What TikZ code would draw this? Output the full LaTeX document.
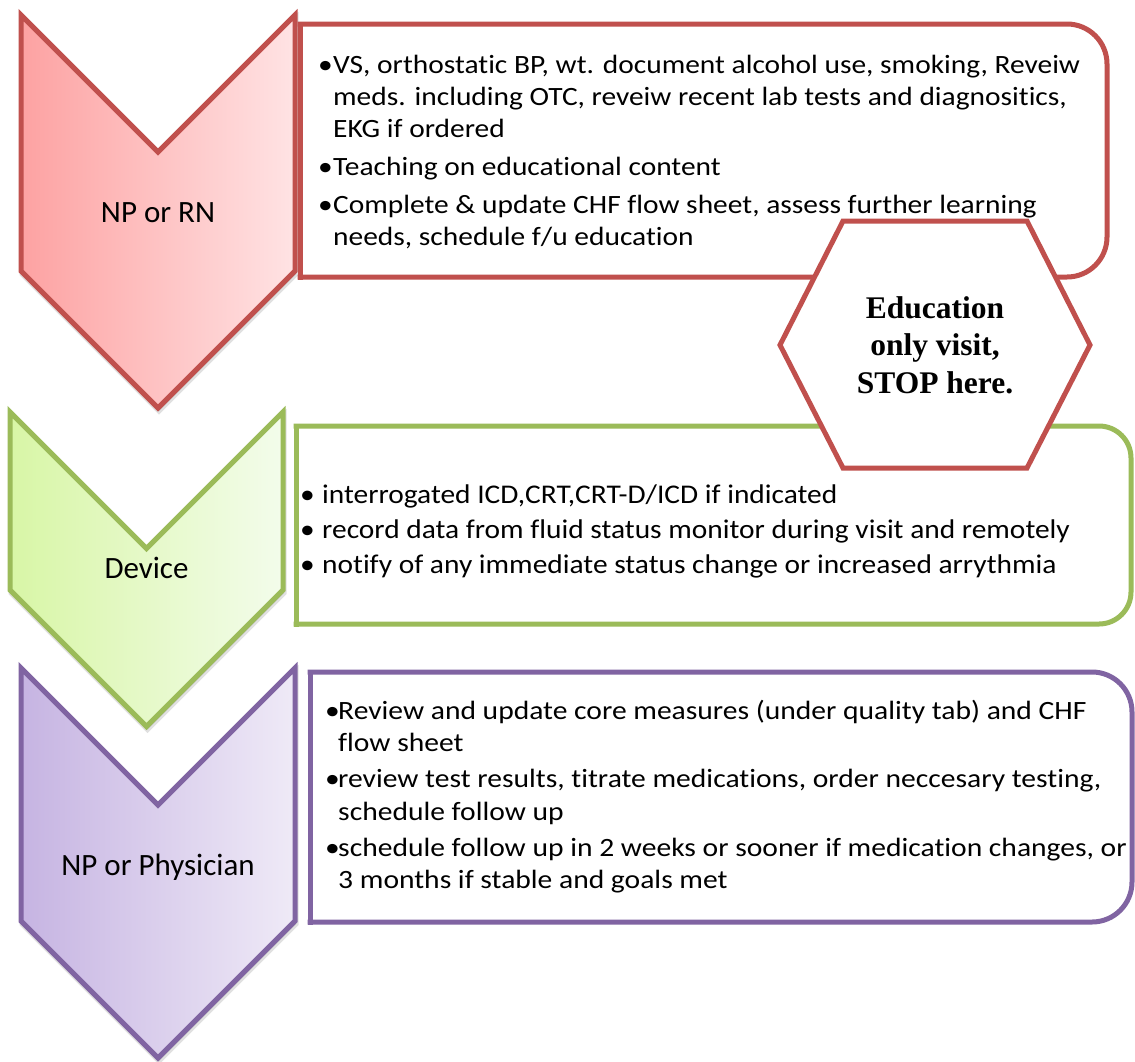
\documentclass[tikz,border=0pt]{standalone}
\usepackage{fontspec}
\setmainfont{Carlito}[Ligatures=CommonOff]
\newfontfamily\boxAfont{Carlito}[FakeStretch=1.115,Ligatures=CommonOff]
\newfontfamily\boxBfont{Carlito}[FakeStretch=1.09,Ligatures=CommonOff]
\newfontfamily\boxCfont{Carlito}[FakeStretch=1.12,Ligatures=CommonOff]
\newfontfamily\hexfont{Liberation Serif}
\definecolor{cred}{HTML}{C0504D}
\definecolor{cgreen}{HTML}{9BBB59}
\definecolor{cpurple}{HTML}{8064A2}
\definecolor{redL}{HTML}{FDA2A2}
\definecolor{redR}{HTML}{FFE3E4}
\definecolor{greenL}{HTML}{D8F6A6}
\definecolor{greenR}{HTML}{F3FCEB}
\definecolor{purpleL}{HTML}{C6B4E2}
\definecolor{purpleR}{HTML}{EFEAF7}
\tikzset{
  chevshadow/.style={preaction={fill=black, fill opacity=0.12, draw=black, draw opacity=0.12, line width=5pt, transform canvas={xshift=1pt, yshift=-3pt}}},
  chevred/.style={chevshadow, draw=cred, line width=5pt, left color=redL, right color=redR},
  chevgreen/.style={chevshadow, draw=cgreen, line width=5pt, left color=greenL, right color=greenR},
  chevpurple/.style={chevshadow, draw=cpurple, line width=5pt, left color=purpleL, right color=purpleR},
  boxline/.style={line width=5pt, line cap=rect},
  chevlabel/.style={inner sep=0pt, anchor=base, font=\fontsize{31}{37}\selectfont},
  bodytext/.style={inner sep=0pt, anchor=base west},
  hexshape/.style={draw=cred, fill=white, line width=5pt},
}
\begin{document}
\begin{tikzpicture}[x=1pt,y=-1pt]
\useasboundingbox[fill=white] (0,0) rectangle (1135,1061);

% chevrons
\draw[chevred] (21,15) -- (158,152) -- (295,15) -- (295,271) -- (158,408) -- (21,271) -- cycle;
\draw[chevgreen] (10,412) -- (146.5,548.5) -- (283,412) -- (283,590) -- (146.5,726.5) -- (10,590) -- cycle;
\draw[chevpurple] (21,668) -- (158,805) -- (295,668) -- (295,921) -- (158,1058) -- (21,921) -- cycle;

\node[chevlabel] (lab1) at (158,222) {NP or RN};
\node[chevlabel] (lab2) at (146.5,578) {Device};
\node[chevlabel] (lab3) at (158,875) {NP or Physician};

% box 1
\draw[boxline, draw=cred, rounded corners=40pt] (300,24) -- (1107,24) -- (1107,277) -- (300,277);
\draw[boxline, draw=cred] (300,24) -- (300,277);
% box 2
\draw[boxline, draw=cgreen, rounded corners=32pt] (296,426) -- (1131,426) -- (1131,624) -- (296,624);
\draw[boxline, draw=cgreen] (296,426) -- (296,624);
% box 3
\draw[boxline, draw=cpurple, rounded corners=40pt] (310,672) -- (1132,672) -- (1132,922) -- (310,922);
\draw[boxline, draw=cpurple] (310,672) -- (310,922);

\node[bodytext] (t1) at (318,73) {\vtop{\boxAfont\fontsize{26.4}{32}\selectfont
  \hbox{\makebox[15pt][l]{•}VS, orthostatic BP, wt. document alcohol use, smoking, Reveiw}
  \hbox{\kern15pt meds. including OTC, reveiw recent lab tests and diagnositics,}
  \hbox{\kern15pt EKG if ordered}
  \vskip6pt
  \hbox{\makebox[15pt][l]{•}Teaching on educational content}
  \vskip6pt
  \hbox{\makebox[15pt][l]{•}Complete \& update CHF flow sheet, assess further learning}
  \hbox{\kern15pt needs, schedule f/u education}}};

\node[bodytext] (t2) at (300,503) {\vtop{\boxBfont\fontsize{27}{35}\selectfont
  \hbox{\makebox[22pt][l]{•}interrogated ICD,CRT,CRT-D/ICD if indicated}
  \hbox{\makebox[22pt][l]{•}record data from fluid status monitor during visit and remotely}
  \hbox{\makebox[22pt][l]{•}notify of any immediate status change or increased arrythmia}}};

\node[bodytext] (t3) at (325,719) {\vtop{\boxCfont\fontsize{26.4}{32.5}\selectfont
  \hbox{\makebox[13pt][l]{•}Review and update core measures (under quality tab) and CHF}
  \hbox{\kern13pt flow sheet}
  \vskip3.5pt
  \hbox{\makebox[13pt][l]{•}review test results, titrate medications, order neccesary testing,}
  \hbox{\kern13pt schedule follow up}
  \vskip3.5pt
  \hbox{\makebox[13pt][l]{•}schedule follow up in 2 weeks or sooner if medication changes, or}
  \hbox{\kern13pt 3 months if stable and goals met}}};

% hexagon
\draw[hexshape] (843,221) -- (1027,221) -- (1090,345) -- (1027,468) -- (843,468) -- (780,345) -- cycle;
\node[inner sep=0pt, anchor=base, font=\hexfont\bfseries\fontsize{31.5}{37.5}\selectfont] (hex) at (935,318) {\vtop{\hbox to 0pt{\hss Education\hss}\hbox to 0pt{\hss only visit,\hss}\hbox to 0pt{\hss STOP here.\hss}}};
\end{tikzpicture}
\end{document}
